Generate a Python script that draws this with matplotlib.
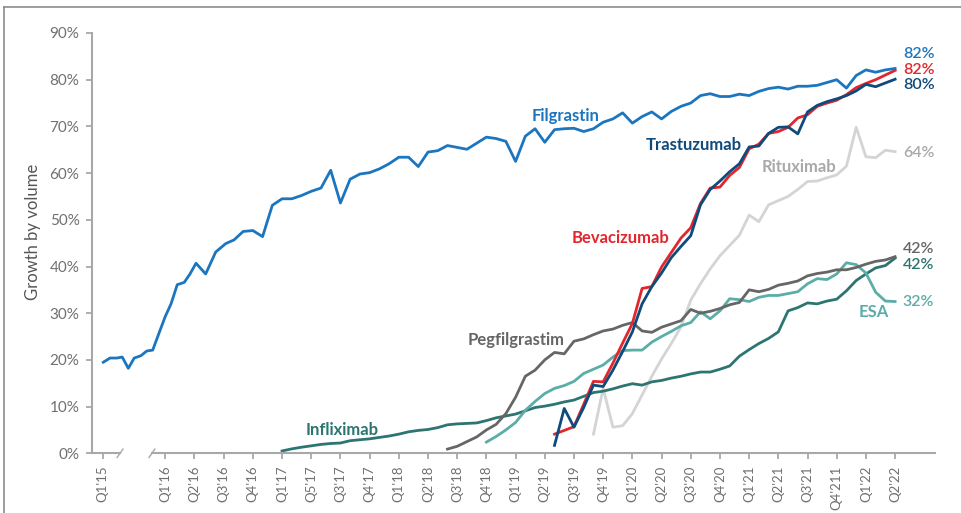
import matplotlib
matplotlib.use("Agg")
import matplotlib.pyplot as plt
import matplotlib.transforms as mtransforms
from matplotlib.lines import Line2D
import numpy as np

plt.rcParams['font.family'] = ['Lato', 'DejaVu Sans']

# x unit = months, Q1'16 = 0
tick_labels = ["Q1'15", "Q1'16", "Q2'16", "Q3'16", "Q4'16", "Q1'17", "Q5'17",
               "Q3'17", "Q4'17", "Q1'18", "Q2'18", "Q3'18", "Q4'18", "Q1'19",
               "Q2'19", "Q3'19", "Q4'19", "Q1'20", "Q2'20", "Q3'20", "Q4'20",
               "Q1'21", "Q2'21", "Q3'21", "Q4'211", "Q1'22", "Q2'22"]
tick_pos = [-6.43] + [3 * i for i in range(26)]

# Filgrastin: irregular early points, then monthly from month 8
filgrastin_early_x = [-6.37, -5.68, -4.99, -4.42, -3.80, -3.19, -2.50, -1.91,
                      -1.29, -0.65, 0.0, 0.59, 1.23, 1.95, 2.54, 3.16, 4.15,
                      5.18, 6.21, 7.07]
filgrastin_early = [19.5, 20.4, 20.4, 20.6, 18.2, 20.4, 20.9, 21.9, 22.1, 25.7,
                    29.3, 32.0, 36.1, 36.6, 38.4, 40.7, 38.4, 43.1, 44.9, 45.7]
filgrastin = [47.5, 47.7, 46.4, 53.1, 54.5, 54.5, 55.2, 56.1, 56.8, 60.6, 53.6,
              58.7, 59.8, 60.1, 60.9, 62.0, 63.4, 63.4, 61.4, 64.5, 64.8, 65.9,
              65.5, 65.1, 66.4, 67.7, 67.4, 66.8, 62.5, 67.9, 69.5, 66.6, 69.3,
              69.5, 69.6, 68.9, 69.5, 70.9, 71.6, 72.9, 70.7, 72.1, 73.1, 71.6,
              73.2, 74.3, 75.0, 76.6, 77.0, 76.4, 76.4, 76.9, 76.6, 77.5, 78.1,
              78.4, 78.0, 78.6, 78.6, 78.8, 79.4, 80.0, 78.2, 80.9, 82.1, 81.6,
              82.1, 82.4]
filgrastin_start = 8

infliximab = [0.5, 0.95, 1.3, 1.6, 1.9, 2.1, 2.2, 2.7, 2.9, 3.1, 3.4, 3.7, 4.1,
              4.6, 4.9, 5.1, 5.5, 6.1, 6.3, 6.4, 6.5, 7.0, 7.6, 8.0, 8.4, 9.1,
              9.8, 10.1, 10.5, 11.0, 11.4, 12.2, 13.0, 13.3, 13.8, 14.4, 14.9,
              14.6, 15.3, 15.6, 16.1, 16.5, 17.0, 17.4, 17.4, 18.0, 18.7, 20.8,
              22.2, 23.5, 24.6, 26.0, 30.5, 31.2, 32.2, 32.0, 32.6, 33.0, 34.8,
              37.0, 38.4, 39.7, 40.2, 41.8]
infliximab_start = 12

pegfilgrastim = [0.9, 1.5, 2.5, 3.5, 5.0, 6.2, 8.5, 12.0, 16.5, 17.8, 20.0,
                 21.6, 21.3, 24.0, 24.5, 25.4, 26.2, 26.6, 27.4, 28.0, 26.2,
                 25.9, 27.0, 27.7, 28.4, 30.8, 30.0, 30.4, 31.0, 31.8, 32.3,
                 35.0, 34.6, 35.1, 36.0, 36.4, 36.9, 38.0, 38.5, 38.8, 39.3,
                 39.3, 39.8, 40.5, 41.1, 41.4, 42.1]
pegfilgrastim_start = 29

esa = [2.4, 3.6, 5.0, 6.6, 9.2, 11.1, 12.8, 13.9, 14.5, 15.4, 17.1, 18.0, 18.9,
       20.6, 22.0, 22.1, 22.1, 23.8, 25.0, 26.1, 27.3, 28.0, 30.3, 28.8, 30.5,
       33.1, 32.9, 32.5, 33.4, 33.8, 33.8, 34.2, 34.6, 36.3, 37.4, 37.2, 38.4,
       40.8, 40.4, 38.6, 34.5, 32.6, 32.5]
esa_start = 33

bevacizumab = [4.1, 4.9, 5.7, 10.5, 15.4, 15.3, 19.3, 23.6, 27.8, 35.3, 35.7,
               39.9, 43.0, 46.1, 48.3, 53.5, 56.8, 57.0, 59.5, 61.2, 65.2, 66.2,
               68.5, 68.9, 69.8, 71.8, 72.5, 74.3, 75.0, 75.6, 76.8, 78.3, 79.2,
               80.0, 81.0, 82.0]
bevacizumab_start = 40

trastuzumab = [1.7, 9.6, 5.6, 9.8, 14.6, 14.3, 17.8, 21.8, 26.0, 32.0, 35.7,
               38.6, 41.9, 44.3, 46.6, 53.2, 56.5, 58.3, 60.3, 62.0, 65.6, 65.8,
               68.5, 69.8, 69.9, 68.4, 73.1, 74.5, 75.3, 75.9, 76.6, 77.6, 79.0,
               78.5, 79.3, 80.1]
trastuzumab_start = 40

rituximab = [4.1, 13.9, 5.6, 5.9, 8.5, 12.5, 16.5, 20.2, 23.5, 27.1, 32.8, 36.3,
             39.5, 42.3, 44.5, 46.7, 51.0, 49.6, 53.2, 54.1, 55.0, 56.5, 58.2,
             58.3, 59.0, 59.6, 61.5, 69.8, 63.5, 63.3, 64.9, 64.6]
rituximab_start = 44

colors = {
    'Filgrastin': '#1b76bf',
    'Trastuzumab': '#0e4a7b',
    'Bevacizumab': '#e1262d',
    'Rituximab': '#d4d4d4',
    'Pegfilgrastim': '#666666',
    'Infliximab': '#2c7571',
    'ESA': '#5bada8',
}
label_colors = dict(colors, Rituximab='#a9a9a9')

fig = plt.figure(figsize=(9.62, 5.13), dpi=100)
ax = fig.add_axes([92 / 962, 1 - 453.3 / 513, (935 - 92) / 962, (453.3 - 33) / 513])

def monthly(start, vals):
    return np.arange(start, start + len(vals)), vals

lw = 2.0
# draw order: lighter first
x, y = monthly(rituximab_start, rituximab)
ax.plot(x, y, color=colors['Rituximab'], lw=lw)
x, y = monthly(infliximab_start, infliximab)
ax.plot(x, y, color=colors['Infliximab'], lw=lw)
x, y = monthly(esa_start, esa)
ax.plot(x, y, color=colors['ESA'], lw=lw)
x, y = monthly(pegfilgrastim_start, pegfilgrastim)
ax.plot(x, y, color=colors['Pegfilgrastim'], lw=lw)
x, y = monthly(bevacizumab_start, bevacizumab)
ax.plot(x, y, color=colors['Bevacizumab'], lw=lw)
x, y = monthly(trastuzumab_start, trastuzumab)
ax.plot(x, y, color=colors['Trastuzumab'], lw=lw)
fx = list(filgrastin_early_x) + list(range(filgrastin_start, filgrastin_start + len(filgrastin)))
fy = filgrastin_early + filgrastin
ax.plot(fx, fy, color=colors['Filgrastin'], lw=lw)

ax.set_xlim(-7.53, 79.1)
ax.set_ylim(0, 90)

# axes styling
axis_grey = '#a8a8a8'
for s in ['top', 'right', 'bottom']:
    ax.spines[s].set_visible(False)
ax.spines['left'].set_color(axis_grey)
ax.spines['left'].set_linewidth(1.5)
ax.set_yticks(range(0, 91, 10))
ax.set_yticklabels([f'{v}%' for v in range(0, 91, 10)])
ax.set_xticks(tick_pos)
ax.set_xticklabels(tick_labels, rotation=90)
ax.tick_params(axis='both', colors=axis_grey, labelcolor='#707070', width=1.3,
               length=4, labelsize=11)
ax.tick_params(axis='x', pad=5, labelsize=9.5)
ax.tick_params(axis='y', pad=5)

# broken x axis
trans = mtransforms.blended_transform_factory(ax.transData, ax.transAxes)
ax.plot([-7.53, -4.65], [0, 0], transform=trans, color=axis_grey, lw=1.5, clip_on=False)
ax.plot([-1.37, 79.1], [0, 0], transform=trans, color=axis_grey, lw=1.5, clip_on=False)
for bx in (-4.65, -1.37):
    ax.plot([bx - 0.3, bx + 0.3], [-0.01, 0.01], transform=trans, color=axis_grey,
            lw=1.0, clip_on=False)

# series labels
name_labels = [
    ('Filgrastin', 37.6, 72.3),
    ('Trastuzumab', 49.4, 66.0),
    ('Rituximab', 61.3, 61.4),
    ('Bevacizumab', 41.8, 46.1),
    ('Pegfilgrastim', 31.1, 24.3),
    ('Infliximab', 14.4, 5.0),
    ('ESA', 71.3, 30.3),
]
for name, lx, ly in name_labels:
    ax.text(lx, ly, name, color=label_colors[name], fontsize=12,
            fontweight='bold', ha='left', va='center')

end_labels = [
    ('82%', 'Filgrastin', 85.6),
    ('82%', 'Bevacizumab', 82.0),
    ('80%', 'Trastuzumab', 78.9),
    ('64%', 'Rituximab', 64.4),
    ('42%', 'Pegfilgrastim', 43.7),
    ('42%', 'Infliximab', 40.3),
    ('32%', 'ESA', 32.5),
]
for txt, name, ly in end_labels:
    ax.text(75.8, ly, txt, color=label_colors[name], fontsize=11.5,
            fontweight='semibold', ha='left', va='center', clip_on=False)

fig.text(33 / 962, 1 - 232 / 513, 'Growth by volume', rotation=90, ha='center',
         va='center', fontsize=12, color='#555555')

# outer frame (top and left)
frame_grey = '#8c8c8c'
fig.add_artist(Line2D([4 / 962, 1], [1 - 7 / 513, 1 - 7 / 513], color=frame_grey, lw=1.2))
fig.add_artist(Line2D([4 / 962, 4 / 962], [0, 1 - 7 / 513], color=frame_grey, lw=1.2))

fig.savefig('out.png', dpi=100)
